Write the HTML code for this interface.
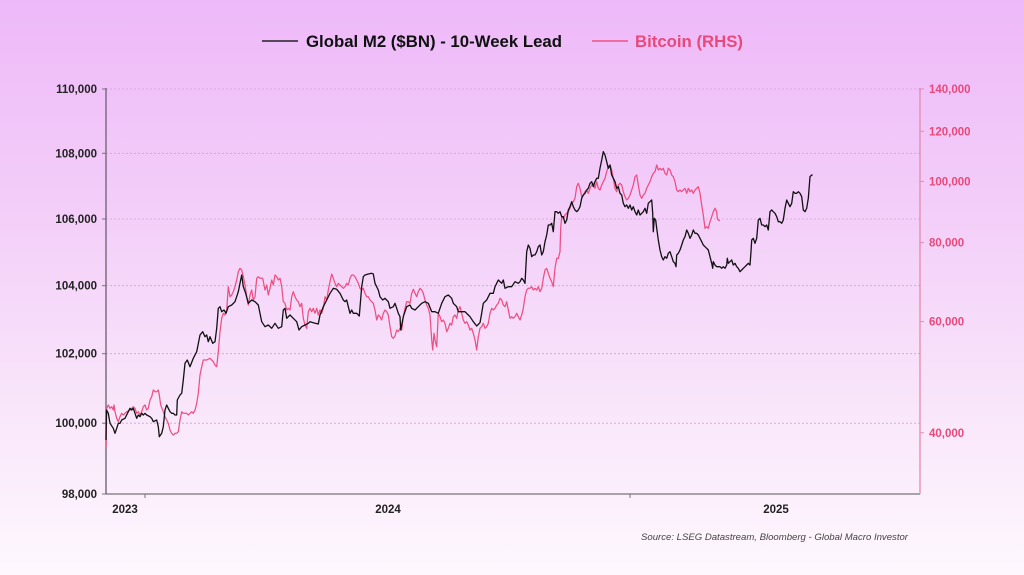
<!DOCTYPE html>
<html>
<head>
<meta charset="utf-8">
<style>
  html,body{margin:0;padding:0;}
  body{width:1024px;height:575px;overflow:hidden;background:linear-gradient(to bottom,#eeb9f9 0%,#f3cdf9 35%,#f8e2fa 65%,#fef8fe 100%);}
  svg{display:block;}
  text{font-family:"Liberation Sans",Arial,sans-serif;}
</style>
</head>
<body>
<svg width="1024" height="575" viewBox="0 0 1024 575" xmlns="http://www.w3.org/2000/svg">
  <!-- Legend -->
  <line x1="262" y1="41" x2="298" y2="41" stroke="#222" stroke-width="1.5"/>
  <text x="306" y="47" font-size="16.6" font-weight="bold" fill="#111" textLength="256" lengthAdjust="spacingAndGlyphs">Global M2 ($BN) - 10-Week Lead</text>
  <line x1="592" y1="41" x2="628" y2="41" stroke="#ee5585" stroke-width="1.5"/>
  <text x="635" y="47" font-size="16.6" font-weight="bold" fill="#e8497b" textLength="108" lengthAdjust="spacingAndGlyphs">Bitcoin (RHS)</text>

  <!-- Gridlines -->
  <g stroke="#c9a6d2" stroke-width="0.8" stroke-dasharray="2,2">
    <line x1="106" y1="89" x2="920" y2="89"/>
    <line x1="106" y1="153.3" x2="920" y2="153.3"/>
    <line x1="106" y1="219" x2="920" y2="219"/>
    <line x1="106" y1="285.7" x2="920" y2="285.7"/>
    <line x1="106" y1="353.7" x2="920" y2="353.7"/>
    <line x1="106" y1="423.2" x2="920" y2="423.2"/>
  </g>

  <!-- Axes -->
  <line x1="106" y1="88" x2="106" y2="494" stroke="#7d6e82" stroke-width="1.5"/>
  <line x1="106" y1="494" x2="920" y2="494" stroke="#5a5060" stroke-width="1"/>
  <line x1="920" y1="88" x2="920" y2="494" stroke="#e889ae" stroke-width="1.3"/>
  <g stroke="#7d6e82" stroke-width="1">
    <line x1="102" y1="89" x2="106" y2="89"/>
    <line x1="102" y1="153.3" x2="106" y2="153.3"/>
    <line x1="102" y1="219" x2="106" y2="219"/>
    <line x1="102" y1="285.7" x2="106" y2="285.7"/>
    <line x1="102" y1="353.7" x2="106" y2="353.7"/>
    <line x1="102" y1="423.2" x2="106" y2="423.2"/>
    <line x1="102" y1="494" x2="106" y2="494"/>
    <line x1="145" y1="494" x2="145" y2="498"/>
    <line x1="630" y1="494" x2="630" y2="498"/>
  </g>
  <g stroke="#e889ae" stroke-width="1">
    <line x1="920" y1="89" x2="924" y2="89"/>
    <line x1="920" y1="131.3" x2="924" y2="131.3"/>
    <line x1="920" y1="181.5" x2="924" y2="181.5"/>
    <line x1="920" y1="242.6" x2="924" y2="242.6"/>
    <line x1="920" y1="321.6" x2="924" y2="321.6"/>
    <line x1="920" y1="432.8" x2="924" y2="432.8"/>
  </g>

  <!-- Left labels -->
  <g font-size="11.5" font-weight="bold" fill="#222" text-anchor="end">
    <text x="97" y="93">110,000</text>
    <text x="97" y="157.3">108,000</text>
    <text x="97" y="223">106,000</text>
    <text x="97" y="289.7">104,000</text>
    <text x="97" y="357.7">102,000</text>
    <text x="97" y="427.2">100,000</text>
    <text x="97" y="498">98,000</text>
  </g>
  <!-- Right labels -->
  <g font-size="11.5" font-weight="bold" fill="#e8497b">
    <text x="929" y="93">140,000</text>
    <text x="929" y="135.3">120,000</text>
    <text x="929" y="185.5">100,000</text>
    <text x="929" y="246.6">80,000</text>
    <text x="929" y="325.6">60,000</text>
    <text x="929" y="436.8">40,000</text>
  </g>
  <!-- Year labels -->
  <g font-size="11.5" font-weight="bold" fill="#222" text-anchor="middle">
    <text x="125" y="513">2023</text>
    <text x="388" y="513">2024</text>
    <text x="776" y="513">2025</text>
  </g>
  <text x="641" y="540" font-size="9.2" font-style="italic" fill="#444" textLength="267" lengthAdjust="spacingAndGlyphs">Source: LSEG Datastream, Bloomberg - Global Macro Investor</text>

  <!-- Bitcoin (pink) -->
  <polyline fill="none" stroke="#ee4f82" stroke-width="1.25" stroke-linejoin="round" points="
106,448 106.7,408.3 108.3,405 110,408.3 111.7,406.7 113.3,410 114,405 115,411.7 116.7,418.3 118.3,421.7 120,416.7 121.7,413.3 123.3,415 126.7,411.7 130,410 131.7,408.3 133.3,406.7 135,408.3 136.7,413.3 138.3,411.7 140,415 141.7,411.7 143.3,406.7 145,405 146.7,410 148.3,408.3 150,400 151.7,396.7 153.3,390 155,391.7 156.7,391.7 158.3,390 159.3,395 160.7,405 163.3,411.7 165,416.7 166.7,420 168.3,423.3 170,430 171.7,433.3 173.3,435 175,433.3 176.7,433.3 178.3,431.7 180,420 181.7,411.7 183.3,413.3 186.7,413.3 188.3,415 190,413.3 191.7,411.7 193.3,413.3 195,410 196.7,403.3 198.3,393.3 200,375
201.7,366.7 203.3,360 206.7,360 210,358.3 213.3,361.7 215,365 216.7,366.7 218.3,351.7 220,331.7 221.7,318.3 223.3,313.3 225,315 226.7,310 228.3,286.7 230,296.7 231.7,295 233.3,291.7 235,286.7 236.7,280 238.3,271.7 240,268.3 241.7,270 243.3,276.7 245,285 246.7,296.7 248.3,305 250,295 251.7,290 253.3,300 255,296.7 256.7,278.3 258.3,276.7 260,278.3 262.7,278.3 265,290 266.7,285 268.3,295 270,288.3 271.7,280 273.3,285 275,275 276.7,276.7 278.3,280 280,278.3 281.7,286.7 283.3,301.7 285,303.3 286.7,310 288.3,308.3 290,310 291.7,296.7 293.3,291.7 295,296.7 296.7,300 298.3,301.7 300,306.7 301.7,303.3 303.3,318.3 305,325 306.7,328.3 308.3,311.7
310,308.3 311.7,311.7 313.3,308.3 315,313.3 316.7,308.3 318.3,315 320,310 321.7,313.3 323.3,308.3 325,296.7 326.7,300 328.3,290 330,281.7 331.7,274 333.3,278.3 335,283.3 336.7,286.7 338.3,283.3 340,285 341.7,286.7 343.3,288.3 345,286.7 346.7,283.3 348.3,285 350,278.3 351.7,275 353.3,275 355,276.7 356.7,280 358.3,283.3 360,288.3 361.7,290 363.3,288.3 365,293.3 366.7,296.7 368.3,296.7 370,300 371.7,301.7 373.3,303.3 375,310 376.7,320 378.3,315 380,316.7 381.7,320 383.3,313.3 385,310 386.7,311.7 388.3,315 390,326.7 391.7,336.7 393.3,338.3 395,336 396.7,330 398.3,331.7 400,328.3 401.7,330 403.3,316.7 405,308.3 406.7,301.7 408.3,301.7 410,303.3 411.7,293.3 413.3,289.3 415,293.3 416.7,296.7 418.3,291.7 420,288.3 421.7,290 423.3,293.3 425,300 426.7,305 428.3,308.3 430,315 431.7,340 432.7,350 434,333.3 435,340 436.7,346.7 438.3,313.3 440,316.7 441.7,321.7 443.3,320 445,323.3 446.7,331.7 448.3,328.3 450,323.3 451.7,325 453.3,316.7 455,315 456.7,318.3 458.3,310 460,306.7 461.7,313.3 463.3,320 465,323.3 466.7,321.7 468.3,325 470,330 471.7,328.3 473.3,333.3 475,340 476.7,350 478.3,336.7 480,328.3 481.7,326.7 483.3,323.3 485,328.3 486.7,326.7 488.3,323.3 490,313.3 491.7,308.3 493.3,310 495,308.3 496.7,305 498.3,303.3 500,298.3 501.7,300 503.3,305 505,306.7 506.7,301.7 508.3,310 510,318.3 511.7,316.7 513.3,318.3 515,316.7 516.7,313.3 518.3,316.7 520,320 521.7,315 523.3,308.3 525,296.7 526.7,290 528.3,288.3
530,288.3 531.7,286.7 533.3,290 535,288.3 536.7,290 538.3,286.7 540,291.7 541.7,288.3 543.3,278.3 545,270 546.7,268.3 548.3,273.3 550,278.3 551.7,281.7 553.3,286.7 555,268.3 556.7,258.3 558.3,258.3 560,251.7 560.7,228.3 561.7,216.7 563.3,218.3 565,215 566.7,213.3 568.3,211.7 570,208.3 571.7,203.3 573.3,201.7 575,198.3 576.7,186.7 578.3,183.3 580,188.3 581.7,196.7 583.3,195 585,191.7 586.7,190 588.3,193.3 590,188.3 591.7,185 593.3,183.3 595,188.3 596.7,181.7 598.3,188.3 600,190 601.7,185 603.3,181.7 605,178.3 606.7,171.7 608.3,166.7 610,165 611.7,170 613.3,178.3 615,188.3 616.7,191.7 618.3,185 620,183.3 621.7,185 623.3,191.7 625,196.7 626.7,200 628.3,198.3 630,195 631.7,190 633.3,185 635,176.7 636.7,175 638.3,185 640,195 641.7,198.3 643.3,195 645,193.3 646.7,188.3 648.3,185 650,181.7 651.7,176.7 653.3,173.3 655,171.7 656.7,165 658.3,170 660,168.3 661.7,170 663.3,168.3 665,173.3 666.7,175 668.3,168.3 670,170 671.7,175 673.3,176.7 675,181.7 676.7,190 678.3,191.7 680,190
681.7,191.7 683.3,190 685,188.3 686.7,193.3 688.3,188.3 690,191.7 691.7,190 693.3,193.3 695,190 696.7,188.3 698.3,186.7 700,193.3 701.7,205 703.3,215 705,228.3 706.7,226.7 708.3,228.3 710,221.7 711.7,216.7 713.3,211.7 715,208.3 716.7,211.7 717.3,218.3 718.3,220 720,220.7"/>

  <!-- Global M2 (black) -->
  <polyline fill="none" stroke="#111" stroke-width="1.3" stroke-linejoin="round" points="
106,440 106.5,410 108.3,413.3 110,423.3 113.3,428.3 115,433.3 116.7,428.3 118.3,423.3 120,423.3 121.7,420 125,418.3 128.3,411.7 130,408.3 131.7,410 133.3,408.3 135,413.3 136.7,418.3 138.3,415 140,416.7 141.7,413.3 143.3,415 145,413.3 146.7,415 150,416.7 151.7,418.3 153.3,421.7 156.7,420 158.3,426.7 159.3,436.7 161.7,433.3 163.3,426.7 165,410 166.7,405 168.3,408.3 170,411.7 171.7,413.3 173.3,413.3 175,415 176.7,415 177.3,400 180,395 181.7,393.3 183.3,380
185,363.3 187.3,360 190,366.7 193.3,358.3 196.7,351.7 200,335 202.7,331.7 205,336.7 206.7,335 208.3,341.7 210,336.7 212.7,343.3 215,341.7 216.7,328.3 218.3,308.3 220,306.7 221.7,311.7 224,310 226,313.3 228.3,306.7 231.7,305 235,301.7 238.3,291.7 240,283.3 241.7,275 243.3,286.7 245.7,293.3 248.3,303.3 251.7,300 255,301.7 258.3,305 261.7,321.7 265,326.7 268.3,325 271.7,328.3 275,323.3 278.3,328.3 281.7,326.7 283.3,310 285,308.3 286.7,318.3 290,315 293.3,318.3 296.7,321.7 299,330 301.7,326.7 305,325 308.3,323.3
310,321.7 313.3,322.7 318.3,324 320,315 323.3,306.7 326.7,300 330,293.3 333.3,288.3 336.7,289.3 340,293.3 343.3,300 345,301.7 346.7,300 348.3,306.7 350,313.3 351.7,310 353.3,313.3 356.7,313.3 359.3,316 361.7,286.7 363.3,276.7 365,275 368.3,274 371.7,273.3 373.3,274 375,283.3 378.3,290 380,296.7 382.7,300 385,298.3 388.3,301.7 390,308.3 393.3,306.7 395,303.3 396.7,308.3 398.3,313.3 400,316.7 400.7,330 401.7,325 403.3,316.7 405,311.7 406.7,306.7 410,305 411.7,308.3 415,310 418.3,306.7 421.7,303.3 425,301.7 428.3,303.3 431.7,311.7 435,311.7 438.3,313.3 441.7,303.3 445,296.7 448.3,295 451.7,298.3 453.3,303.3 456.7,306.7 458.3,311.7 461.7,311.7 465,311.7 468.3,315 470,316.7 473.3,321.7 476.7,326 480,322.7 481.7,313.3 483.3,303.3 486.7,300 490,293.3 493.3,293.3 495,286.7 496.7,283.3 498.3,280 500,281.7 501.7,283.3 503.3,280 505,288.3 508.3,286.7 511.7,286.7 515,281.7 518.3,283.3 520,281.7 521.7,278.3 523.3,280 525,283.3 526.7,251.7
528.3,245 530,248.3 531.7,256.7 533.3,255 535,255 536.7,251.7 538.3,246.7 540,245 541.7,255 543.3,251.7 545,241.7 546.7,235 548.3,225 550,225 551.7,223.3 553.3,231.7 555,211.7 556.7,211.7 558.3,213.3 560,211.7 561.7,216.7 563.3,216.7 565,223.3 566.7,220 568.3,210 570,206.7 571.7,201.7 573.3,206.7 575,210 576.7,211.7 578.3,210 580,206.7 581.7,198.3 583.3,195 585,193.3 586.7,190 588.3,188.3 590,183.3 591.7,181.7 593.3,186.7 595,181.7 596.7,178.3 598.3,178.3 600,168.3 601.7,160 603.3,151.7 605,155 606.7,161.7 608.3,168.3 610,165 611.7,175 613.3,178.3 615,181.7 616.7,188.3 618.3,186.7 620,193.3 621.7,195 623.3,203.3 625,206.7 626.7,205 628.3,208.3 630,205 631.7,210 633.3,206.7 635,211.7 636.7,215 638.3,210 640,215 641.7,213.3 643.3,211.7 645,208.3 646.7,213.3 648.3,203.3 650,201.7 651.7,200 652.7,213.3 653.3,231.7 654.3,218.3 655.7,220 656.7,228.3 658.3,240 660,250 661.7,256.7 663.3,260 665,256.7 666.7,258.3 668.3,253.3 670,251.7 671.7,256.7 673.3,261.7 675,263.3 676,266.7 676.7,255 678.3,253.3 680,250 681.7,245 683.3,240 685,236.7 686.7,230 688.3,233.3 690,238.3 691.7,235 693.3,230 695,233.3 696.7,233.3 698.3,235 700,238.3 701.7,241.7 703.3,245 705,246.7 706.7,248.3 708.3,250 710,256.7 711.7,263.3 712.7,268.3 713.3,261.7 715,265 716.7,266.7 718.3,266.7 720,266.7 721.7,268.3 723.3,266.7 725,268.3 726.7,265 727.3,258.3 728.3,263.3 730,261.7 731.7,260 733.3,265 735,263.3 736.7,266.7 738.3,268.3 740,271.7 741.7,270 743.3,268.3 745,266.7 746.7,265 748.3,263.3 750,265 751,251.7 751.7,240 753.3,238.3 755,243.3 756.7,238.3 758.3,220 760,218.3 761.7,225 763.3,225 765,226.7 766.7,225 768.3,230 770,211.7 771.7,210 773.3,211.7 775,213.3 776.7,216.7 778.3,221.7 780,221.7 781.7,223.3 783.3,220 785,208.3 786.7,200 788.3,203.3 790,206.7 791.7,203.3 793.3,191.7 795,193.3 796.7,193.3 798.3,191.7 800,193.3 801.7,196.7 803.3,210 805,211.7 806.7,208.3 808.3,198.3 810,176.7 811.7,175 812.7,175"/>
</svg>
</body>
</html>
